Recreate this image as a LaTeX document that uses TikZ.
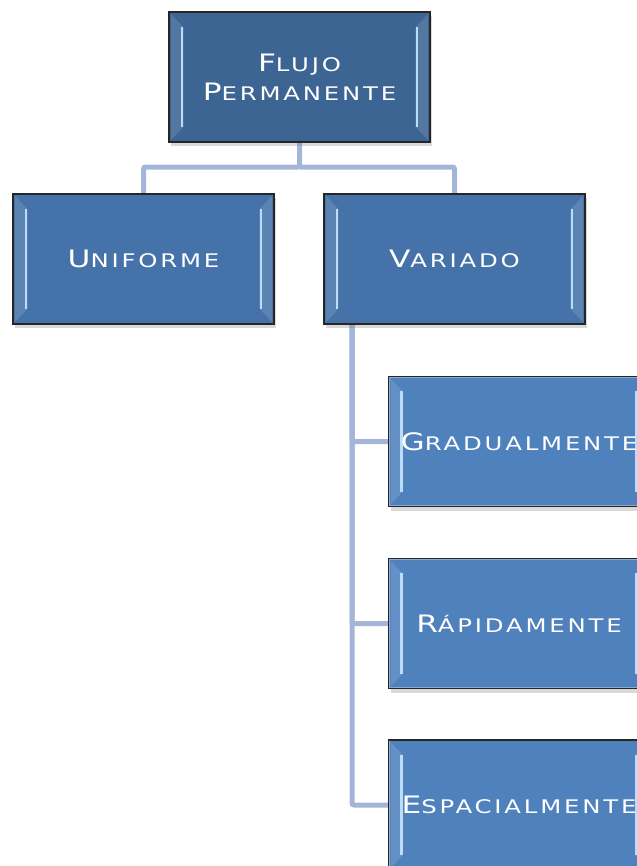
\documentclass[tikz,border=0pt]{standalone}
\usepackage{fontspec}
\newfontfamily\boxfont{DejaVu Sans}[FakeStretch=1.3,LetterSpace=15]
\usetikzlibrary{positioning,shadows,calc}
\definecolor{topblue}{HTML}{3C6594}
\definecolor{midblue}{HTML}{4573A9}
\definecolor{lowblue}{HTML}{4F81BD}
\definecolor{connblue}{HTML}{A3B6D8}
\definecolor{bevelblue}{HTML}{B9DDFB}
\newcommand{\capsw}[2]{{\fontsize{20.5}{25}\selectfont #1}{\fontsize{16}{25}\selectfont #2}}

\tikzset{
  box/.style={draw=black!85, line width=1.2pt, minimum width=78.3mm, minimum height=39mm,
    text=white, font=\boxfont\fontsize{16}{25}\selectfont, align=center, inner sep=0pt,
    drop shadow={opacity=0.3, shadow xshift=0.6mm, shadow yshift=-1.2mm},
    path picture={
      % bevel sides
      \fill[white, opacity=0.12]
        ([shift={(0.6mm,-0.6mm)}]path picture bounding box.north west) --
        ([shift={(4.4mm,-4.6mm)}]path picture bounding box.north west) --
        ([shift={(4.4mm,4.6mm)}]path picture bounding box.south west) --
        ([shift={(0.6mm,0.6mm)}]path picture bounding box.south west) -- cycle;
      \fill[white, opacity=0.12]
        ([shift={(-0.6mm,-0.6mm)}]path picture bounding box.north east) --
        ([shift={(-4.4mm,-4.6mm)}]path picture bounding box.north east) --
        ([shift={(-4.4mm,4.6mm)}]path picture bounding box.south east) --
        ([shift={(-0.6mm,0.6mm)}]path picture bounding box.south east) -- cycle;
      \draw[bevelblue, line width=0.8mm]
        ([shift={(3.9mm,-4.4mm)}]path picture bounding box.north west) --
        ([shift={(3.9mm,4.4mm)}]path picture bounding box.south west);
      \draw[bevelblue, line width=0.8mm]
        ([shift={(-3.9mm,-4.4mm)}]path picture bounding box.north east) --
        ([shift={(-3.9mm,4.4mm)}]path picture bounding box.south east);
      \draw[white, opacity=0.35, line width=0.8mm]
        (path picture bounding box.north west) rectangle (path picture bounding box.south east);
    }},
  conn/.style={connblue, line width=1.5mm, rounded corners=0.6mm},
}

\begin{document}
\begin{tikzpicture}[x=0.3mm,y=-0.3mm]
\useasboundingbox (0,0) rectangle (637,866);
% connectors first
\coordinate (bus) at (299.5,167);
\coordinate (trunk) at (352,324);
\coordinate (flujoS) at (299.5,142);
\draw[conn] (flujoS) -- (bus) -| (143.5,194);
\draw[conn] (bus) -| (454.5,194);
\draw[conn] (trunk) |- (388,441.5);
\draw[conn] (trunk) |- (388,623.5);
\draw[conn] (trunk) |- (388,805);
% boxes
\node[box, fill=topblue] (flujo) at (299.5,77) {\capsw{F}{LUJO}\\\capsw{P}{ERMANENTE}};
\node[box, fill=midblue] (unif) at (143.5,259) {\capsw{U}{NIFORME}};
\node[box, fill=midblue] (var) at (454.5,259) {\capsw{V}{ARIADO}};
\node[box, fill=lowblue] (grad) at (519,441.5) {\capsw{G}{RADUALMENTE}};
\node[box, fill=lowblue] (rap) at (519,623.5) {\capsw{R}{ÁPIDAMENTE}};
\node[box, fill=lowblue] (esp) at (519,805) {\capsw{E}{SPACIALMENTE}};
\end{tikzpicture}
\end{document}
